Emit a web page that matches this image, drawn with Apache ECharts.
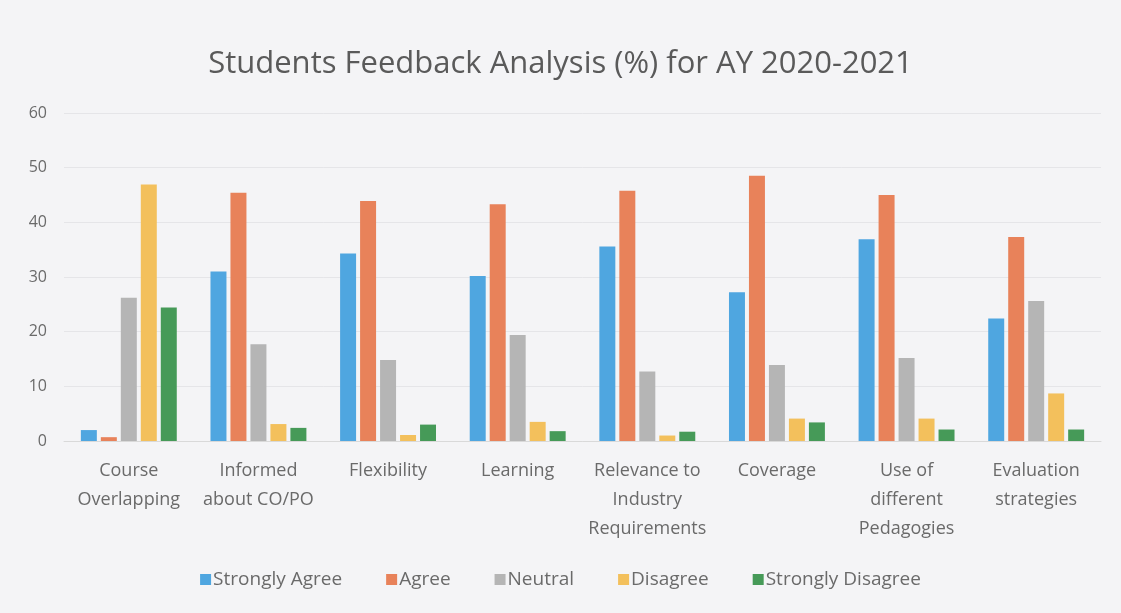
<!DOCTYPE html>
<html>
<head>
<meta charset="utf-8">
<script src="https://cdn.jsdelivr.net/npm/echarts@6/dist/echarts.min.js"></script>
<style>
  html, body { margin: 0; padding: 0; background: #f4f4f6; }
  #chart { width: 1121px; height: 613px; }
</style>
</head>
<body>
<div id="chart"></div>
<script>
// categories (x axis)
var categories = ['Course\nOverlapping', 'Informed\nabout CO/PO', 'Flexibility', 'Learning',
  'Relevance to\nIndustry\nRequirements', 'Coverage', 'Use of\ndifferent\nPedagogies', 'Evaluation\nstrategies'];

// values (%)
var stronglyAgree    = [2.0, 31.0, 34.3, 30.2, 35.6, 27.2, 36.9, 22.4];
var agree            = [0.7, 45.4, 43.9, 43.3, 45.8, 48.5, 45.0, 37.3];
var neutral          = [26.2, 17.7, 14.8, 19.4, 12.7, 13.9, 15.2, 25.6];
var disagree         = [46.9, 3.1, 1.1, 3.5, 1.0, 4.1, 4.1, 8.7];
var stronglyDisagree = [24.4, 2.4, 3.0, 1.8, 1.7, 3.4, 2.1, 2.1];

var seriesNames = ['Strongly Agree', 'Agree', 'Neutral', 'Disagree', 'Strongly Disagree'];
var seriesData = [stronglyAgree, agree, neutral, disagree, stronglyDisagree];
var colors = ['#4fa6e0', '#e8825a', '#b5b5b5', '#f3c05c', '#469a58'];

var font = "'Open Sans', sans-serif";
var textColor = '#6a6a6a';

var chart = echarts.init(document.getElementById('chart'));
chart.setOption({
  backgroundColor: '#f4f4f6',
  color: colors,
  title: {
    text: 'Students Feedback Analysis (%) for AY 2020-2021',
    left: 'center',
    top: 44,
    textStyle: { fontFamily: font, fontSize: 31, fontWeight: 'normal', color: '#5a5a5a' }
  },
  legend: {
    bottom: 19,
    left: 'center',
    itemWidth: 11,
    itemHeight: 11,
    itemGap: 44,
    icon: 'rect',
    textStyle: { fontFamily: font, fontSize: 19, color: textColor, padding: [0, 0, 0, -3] },
    data: seriesNames
  },
  grid: { left: 64, right: 20, top: 113, bottom: 172 },
  xAxis: {
    type: 'category',
    data: categories,
    axisLine: { lineStyle: { color: '#d9d9d9' } },
    axisTick: { show: false },
    axisLabel: { fontFamily: font, fontSize: 18, color: textColor, lineHeight: 29, margin: 15, interval: 0 }
  },
  yAxis: {
    type: 'value',
    min: 0,
    max: 60,
    interval: 10,
    axisLine: { show: false },
    axisTick: { show: false },
    splitLine: { lineStyle: { color: '#e5e5e8' } },
    axisLabel: { fontFamily: font, fontSize: 16, color: textColor, margin: 17 }
  },
  series: seriesNames.map(function (name, i) {
    return {
      name: name,
      type: 'bar',
      data: seriesData[i],
      barGap: '25%',
      barCategoryGap: '26%'
    };
  })
});
</script>
</body>
</html>
